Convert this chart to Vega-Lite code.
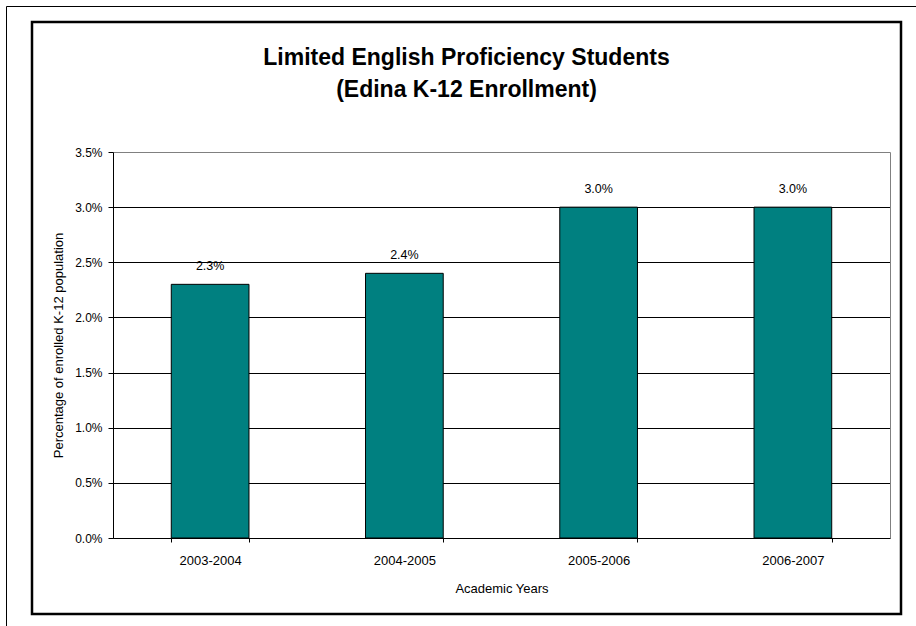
{
  "$schema": "https://vega.github.io/schema/vega-lite/v6.json",
  "width": 869,
  "height": 592,
  "autosize": {"type": "none"},
  "padding": {"left": 32, "top": 22, "right": 15, "bottom": 12},
  "background": "white",
  "title": {
    "text": ["Limited English Proficiency Students", "(Edina K-12 Enrollment)"],
    "font": "Liberation Sans",
    "fontSize": 23,
    "fontWeight": "bold",
    "color": "black",
    "anchor": "middle",
    "frame": "group",
    "baseline": "top",
    "lineHeight": 32,
    "offset": -96
  },
  "config": {
    "view": {"stroke": "black", "strokeWidth": 2.5},
    "font": "Liberation Sans",
    "axis": {
      "labelFont": "Liberation Sans",
      "titleFont": "Liberation Sans",
      "labelColor": "black",
      "titleColor": "black",
      "labelFontSize": 12,
      "titleFontSize": 13,
      "titleFontWeight": "normal"
    }
  },
  "data": {
    "values": [
      {"year": "2003-2004", "pct": 0.023},
      {"year": "2004-2005", "pct": 0.024},
      {"year": "2005-2006", "pct": 0.030},
      {"year": "2006-2007", "pct": 0.030}
    ]
  },
  "layer": [
    {
      "layer": [
        {
          "mark": {"type": "bar", "color": "#008080", "stroke": "black", "strokeWidth": 1},
          "encoding": {
            "x": {
              "field": "year",
              "type": "nominal",
              "sort": null,
              "scale": {"type": "band", "range": [81, 858], "paddingInner": 0.6, "paddingOuter": 0.3},
              "axis": {
                "orient": "bottom",
                "offset": -76,
                "tickBand": "extent",
                "tickSize": 4,
                "tickColor": "black",
                "domainColor": "black",
                "labelAngle": 0,
                "labelFontSize": 13,
                "labelPadding": 12,
                "grid": false,
                "title": "Academic Years",
                "titlePadding": 15
              }
            },
            "y": {
              "field": "pct",
              "type": "quantitative",
              "scale": {"domain": [0, 0.035], "range": [516, 130], "nice": false, "zero": true},
              "axis": {
                "orient": "left",
                "offset": -81,
                "values": [0, 0.005, 0.01, 0.015, 0.02, 0.025, 0.03, 0.035],
                "format": ".1%",
                "grid": true,
                "gridColor": {"condition": {"test": "datum.value >= 0.0349", "value": "#808080"}, "value": "black"},
                "gridWidth": 1,
                "gridOpacity": 1,
                "tickSize": 5,
                "tickColor": "black",
                "domainColor": "black",
                "labelPadding": 6,
                "title": "Percentage of enrolled K-12 population",
                "titlePadding": 9
              }
            }
          }
        },
        {
          "mark": {"type": "text", "dy": -18, "fontSize": 12.5, "font": "Liberation Sans", "color": "black"},
          "encoding": {
            "x": {"field": "year", "type": "nominal", "sort": null},
            "y": {"field": "pct", "type": "quantitative"},
            "text": {"field": "pct", "type": "quantitative", "format": ".1%"}
          }
        }
      ]
    },
    {
      "mark": {"type": "point", "opacity": 0},
      "encoding": {
        "x": {
          "field": "pct",
          "type": "quantitative",
          "scale": {"domain": [0, 1], "range": [-26, 900], "nice": false, "zero": false},
          "axis": {"orient": "top", "offset": 16, "domainColor": "black", "domainWidth": 1, "ticks": false, "labels": false, "grid": false, "title": null}
        },
        "y": {
          "field": "pct",
          "type": "quantitative",
          "scale": {"domain": [0, 1], "range": [620, -16], "nice": false, "zero": false},
          "axis": {"orient": "left", "offset": 26, "domainColor": "black", "domainWidth": 1, "ticks": false, "labels": false, "grid": false, "title": null}
        }
      }
    },
    {
      "mark": {"type": "point", "opacity": 0},
      "encoding": {
        "y": {
          "field": "pct",
          "type": "quantitative",
          "scale": {"domain": [0, 0.035], "range": [516, 130], "nice": false},
          "axis": {"orient": "right", "offset": -11, "domainColor": "#808080", "domainWidth": 1, "ticks": false, "labels": false, "grid": false, "title": null}
        }
      }
    }
  ],
  "resolve": {"scale": {"x": "independent", "y": "independent"}}
}
